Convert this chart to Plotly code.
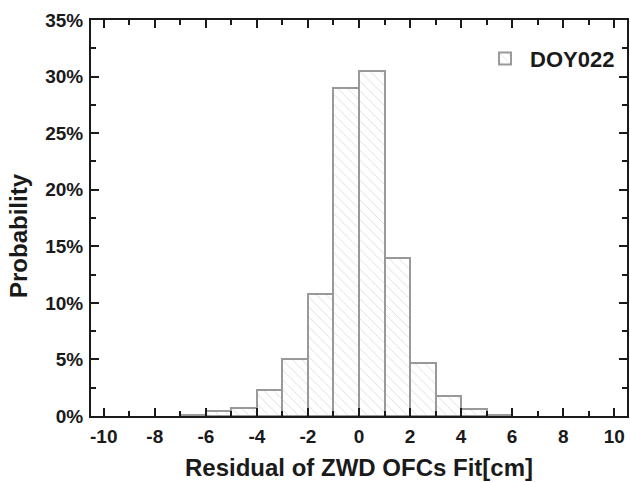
import plotly.graph_objects as go

bin_left = [-7, -6, -5, -4, -3, -2, -1, 0, 1, 2, 3, 4, 5]
probability = [0.05, 0.4, 0.7, 2.3, 5.0, 10.8, 29.0, 30.5, 14.0, 4.7, 1.8, 0.65, 0.1]
series_name = "DOY022"
x_range = [-10.5, 10.5]
y_range = [0, 35]
x_ticks = list(range(-10, 11, 2))
x_tick_text = [str(v) for v in x_ticks]
x_minor = list(range(-9, 10, 2))
y_ticks = list(range(0, 36, 5))
y_tick_text = [f"{v}%" for v in y_ticks]
y_minor = [2.5, 7.5, 12.5, 17.5, 22.5, 27.5, 32.5]
x_title = "Residual of ZWD OFCs Fit[cm]"
y_title = "Probability"

FONT = "Liberation Sans, Arial, sans-serif"
INK = "#1a1a1a"

fig = go.Figure()
fig.add_trace(go.Bar(
    x=bin_left, y=probability, width=1, offset=0,
    name=series_name,
    marker=dict(
        color="white",
        line=dict(color="#999999", width=2),
        pattern=dict(shape="\\", fgcolor="#b0b0b0", bgcolor="white", size=7, solidity=0.12),
    ),
    showlegend=True,
))
# empty trace so the top/right tick axes are drawn
fig.add_trace(go.Scatter(x=[], y=[], xaxis="x2", yaxis="y2", showlegend=False, hoverinfo="skip"))

tick_style = dict(ticks="inside", ticklen=8, tickwidth=2, tickcolor=INK,
                  showgrid=False, zeroline=False, automargin=False,
                  tickfont=dict(family=FONT, size=19, color=INK, weight="bold"))
minor_x = dict(ticks="inside", tickvals=x_minor, ticklen=5, tickwidth=2, tickcolor=INK, showgrid=False)
minor_y = dict(ticks="inside", tickvals=y_minor, ticklen=5, tickwidth=2, tickcolor=INK, showgrid=False)

fig.update_layout(
    width=630, height=482,
    margin=dict(l=91, r=3, t=20, b=66, autoexpand=False),
    plot_bgcolor="white", paper_bgcolor="white",
    bargap=0,
    xaxis=dict(
        range=x_range, tickmode="array", tickvals=x_ticks, ticktext=x_tick_text,
        showline=True, linecolor=INK, linewidth=2, mirror=True,
        ticklabelstandoff=2, minor=minor_x, **tick_style,
    ),
    yaxis=dict(
        range=y_range, tickmode="array", tickvals=y_ticks, ticktext=y_tick_text,
        showline=True, linecolor=INK, linewidth=2, mirror=True,
        ticklabelstandoff=2, minor=minor_y, **tick_style,
    ),
    xaxis2=dict(
        range=x_range, overlaying="x", side="top", anchor="y2",
        tickmode="array", tickvals=x_ticks, showticklabels=False, showline=False,
        minor=minor_x, **tick_style,
    ),
    yaxis2=dict(
        range=y_range, overlaying="y", side="right", anchor="x2",
        tickmode="array", tickvals=y_ticks, showticklabels=False, showline=False,
        minor=minor_y, **tick_style,
    ),
    legend=dict(
        x=0.987, y=0.955, xanchor="right", yanchor="top",
        font=dict(family=FONT, size=22, color=INK, weight="bold"),
        bgcolor="rgba(0,0,0,0)", itemwidth=40,
    ),
    annotations=[
        dict(text=x_title, xref="paper", yref="paper", x=0.5, y=-0.131,
             xanchor="center", yanchor="middle", showarrow=False,
             font=dict(family=FONT, size=24, color=INK, weight="bold")),
        dict(text=y_title, xref="paper", yref="paper", x=-0.134, y=0.455,
             xanchor="center", yanchor="middle", showarrow=False, textangle=-90,
             font=dict(family=FONT, size=24, color=INK, weight="bold")),
    ],
)

fig.write_html("out.html", config={"displayModeBar": False},
               post_script="document.body.style.margin='0';document.body.style.overflow='hidden';")
